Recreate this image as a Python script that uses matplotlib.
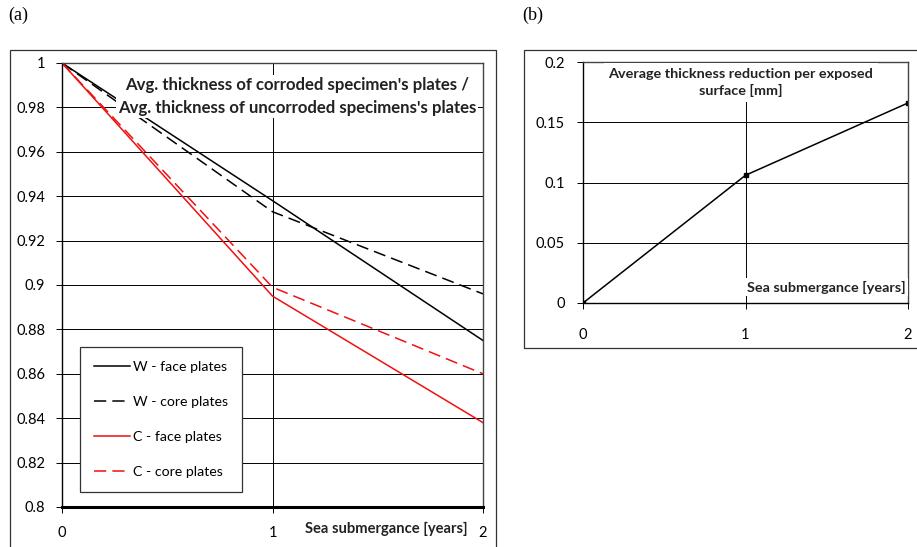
import matplotlib
matplotlib.use("Agg")
import matplotlib.pyplot as plt
from matplotlib.patches import Rectangle

plt.rcParams["font.family"] = ["Lato", "DejaVu Sans"]

# submergence time [years]
years = [0, 1, 2]

# ratio of corroded / uncorroded plate thickness
w_face = [1.0, 0.938, 0.875]
w_core = [1.0, 0.933, 0.896]
c_face = [1.0, 0.895, 0.838]
c_core = [1.0, 0.899, 0.860]

# mean thickness loss per exposed surface [mm]
reduction = [0.0, 0.106, 0.166]

y_ticks_a = [0.8, 0.82, 0.84, 0.86, 0.88, 0.9, 0.92, 0.94, 0.96, 0.98, 1.0]
y_labels_a = ["0.8", "0.82", "0.84", "0.86", "0.88", "0.9", "0.92", "0.94", "0.96", "0.98", "1"]
y_ticks_b = [0, 0.05, 0.1, 0.15, 0.2]
y_labels_b = ["0", "0.05", "0.1", "0.15", "0.2"]

W, H = 917, 547
fig = plt.figure(figsize=(W / 100, H / 100), dpi=100)


def fig_box(x0, y0, x1, y1):
    # pixel box (top-left origin) -> figure fraction
    return [x0 / W, 1 - y1 / H, (x1 - x0) / W, (y1 - y0) / H]


# outer frames around each chart
for x0, y0, x1, y1 in [(10, 50, 496, 560), (524, 50, 930, 348)]:
    fig.patches.append(Rectangle((x0 / W, 1 - y1 / H), (x1 - x0) / W, (y1 - y0) / H,
                                 transform=fig.transFigure, fill=False,
                                 edgecolor="#333333", lw=0.9))

fig.text(8 / W, 1 - 15 / H, "(a)", family="Liberation Serif", fontsize=13, va="center")
fig.text(522 / W, 1 - 15 / H, "(b)", family="Liberation Serif", fontsize=13, va="center")

red = "#f01010"
dash = (0, (8, 4))

# ---- (a) thickness ratio
ax = fig.add_axes(fig_box(62, 63, 483, 507))
ax.plot(years, w_face, color="black", lw=1.1, label="W - face plates")
ax.plot(years, w_core, color="black", lw=1.1, ls=dash, label="W - core plates")
ax.plot(years, c_face, color=red, lw=1.1, label="C - face plates")
ax.plot(years, c_core, color=red, lw=1.1, ls=dash, label="C - core plates")
ax.set_xlim(0, 2)
ax.set_ylim(0.8, 1.0)
ax.set_xticks(years)
ax.set_xticklabels(["0", "1", "2"])
ax.set_yticks(y_ticks_a)
ax.set_yticklabels(y_labels_a)
ax.grid(True, color="black", lw=0.7)
ax.set_axisbelow(True)
ax.tick_params(axis="y", length=4, width=0.7, pad=8, labelsize=10.5)
ax.tick_params(axis="x", length=4, width=0.7, pad=10, labelsize=10.5)
ax.spines["left"].set_linewidth(1.0)
ax.spines["bottom"].set_linewidth(2.2)
for s in ["top", "right"]:
    ax.spines[s].set_color("#444444")
    ax.spines[s].set_linewidth(1.0)

ax.text(0.558, 0.9245,
        "Avg. thickness of corroded specimen's plates /\nAvg. thickness of uncorroded specimens's plates",
        transform=ax.transAxes, ha="center", va="center", multialignment="center",
        fontsize=12.1, fontweight="bold", color="#222222", linespacing=1.5, zorder=5,
        bbox=dict(boxstyle="square,pad=0.12", facecolor="white", edgecolor="none"))
ax.text(0.771, -0.0495, "Sea submergance [years]", transform=ax.transAxes,
        ha="center", va="center", fontsize=10.6, fontweight="bold", color="#222222")

leg = ax.legend(loc="upper left", bbox_to_anchor=(0.0428, 0.3604), borderaxespad=0,
                fancybox=False, framealpha=1, edgecolor="#333333", fontsize=10.2,
                handlelength=2.5, handletextpad=0.25, labelspacing=1.62, borderpad=1.0)
leg.get_frame().set_linewidth(0.9)

# ---- (b) thickness reduction
bx = fig.add_axes(fig_box(583, 62, 908, 303))
bx.plot(years, reduction, color="black", lw=1.1, marker="s", markersize=3)
bx.set_xlim(0, 2)
bx.set_ylim(0, 0.2)
bx.set_xticks(years)
bx.set_xticklabels(["0", "1", "2"])
bx.set_yticks(y_ticks_b)
bx.set_yticklabels(y_labels_b)
bx.grid(True, color="black", lw=0.7)
bx.set_axisbelow(True)
bx.tick_params(axis="y", length=4, width=0.7, pad=9, labelsize=10.5)
bx.tick_params(axis="x", length=4, width=0.7, pad=14, labelsize=10.5)
for s in ["left", "bottom"]:
    bx.spines[s].set_linewidth(1.0)
for s in ["top", "right"]:
    bx.spines[s].set_color("#444444")
    bx.spines[s].set_linewidth(1.0)

bx.text(0.486, 0.915, "Average thickness reduction per exposed\nsurface [mm]",
        transform=bx.transAxes, ha="center", va="center", multialignment="center",
        fontsize=10.4, fontweight="bold", color="#222222", linespacing=1.4, zorder=5,
        bbox=dict(boxstyle="square,pad=0.3", facecolor="white", edgecolor="none"))
bx.text(0.748, 0.066, "Sea submergance [years]", transform=bx.transAxes,
        ha="center", va="center", fontsize=10.4, fontweight="bold", color="#222222", zorder=5,
        bbox=dict(boxstyle="square,pad=0.2", facecolor="white", edgecolor="none"))

fig.savefig("out.png", dpi=100)
